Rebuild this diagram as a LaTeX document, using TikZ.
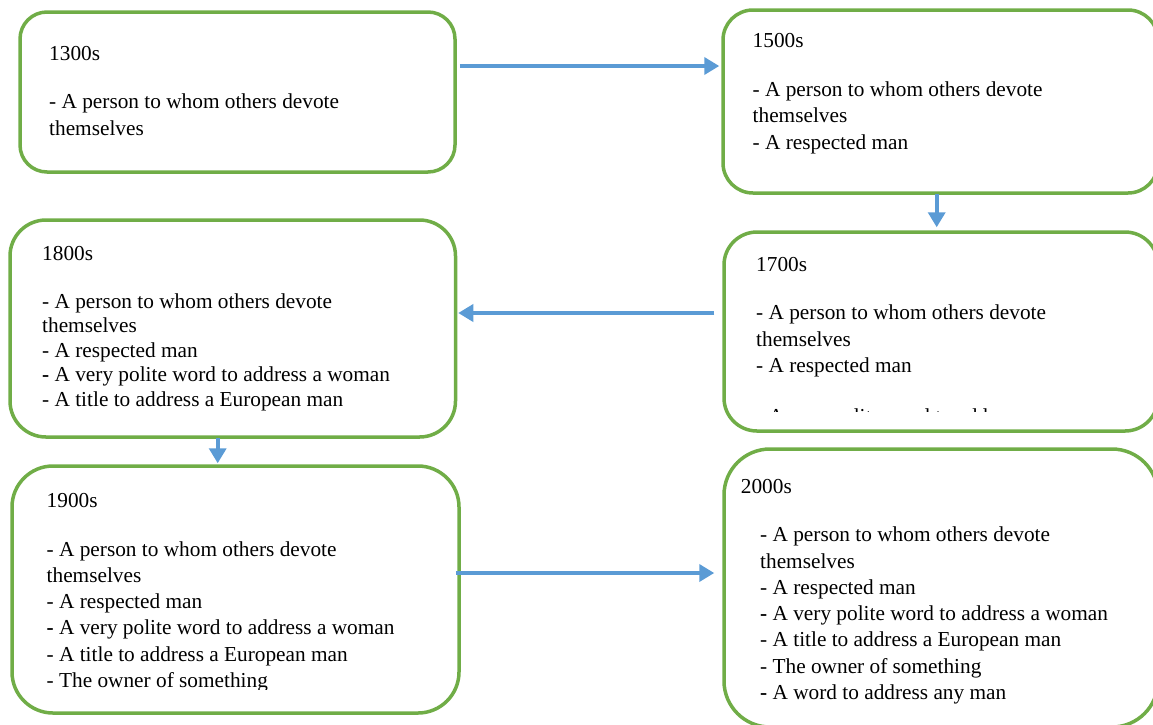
\documentclass[tikz,border=0pt]{standalone}
\usepackage{fontspec}
\setmainfont{Liberation Serif}
\usetikzlibrary{arrows.meta}
\definecolor{framegreen}{HTML}{70AD47}
\definecolor{arrowblue}{HTML}{5B9BD5}
\begin{document}
\begin{tikzpicture}[x=1pt,y=-1pt,
  era/.style={draw=framegreen, line width=3.5pt, rectangle, inner sep=0pt, fill=none},
  % multi-line text blocks are placed by the baseline of their last line
  lines/.style={anchor=base west, align=left, inner sep=0pt,
    font=\fontsize{21.3pt}{26.3pt}\selectfont},
  tight/.style={font=\fontsize{21.3pt}{24.6pt}\selectfont},
  arr/.style={draw=arrowblue, line width=3.6pt,
    -{Triangle[length=15pt,width=17pt]}}]
\useasboundingbox (0,0) rectangle (1153,724);
\begin{scope}
\clip (0,0) rectangle (1153,724);

% century boxes
\node[era, rounded corners=27pt, minimum width=435pt, minimum height=160pt] (b1) at (237.5,92) {};
\node[era, rounded corners=30pt, minimum width=435pt, minimum height=183pt] (b2) at (940.5,101.5) {};
\node[era, rounded corners=33pt, minimum width=434pt, minimum height=199pt] (b3) at (941,331.5) {};
\node[era, rounded corners=36pt, minimum width=445.5pt, minimum height=217pt] (b4) at (232.75,328.5) {};
\node[era, rounded corners=41pt, minimum width=447pt, minimum height=247pt] (b5) at (235.5,589.5) {};
\node[era, rounded corners=46pt, minimum width=434pt, minimum height=278pt] (b6) at (941,588) {};

% texts
\node[lines] (t1) at (49,135) {1300s\\[22.3pt]
- A person to whom others devote\\
themselves};

\node[lines] (t2) at (752.5,149) {1500s\\[22.3pt]
- A person to whom others devote\\
themselves\\
- A respected man};

\begin{scope}
\clip (730,240) rectangle (1150,411);
\node[lines] (t3) at (756,423.5) {1700s\\[22.3pt]
- A person to whom others devote\\
themselves\\
- A respected man\\[24.8pt]
- A very polite word to address a woman};
\end{scope}

\node[lines, tight] (t4) at (42,406.4) {1800s\\[23.4pt]
- A person to whom others devote\\
themselves\\
- A respected man\\
\textbf{-} A very polite word to address a woman\\
- A title to address a European man};

\begin{scope}
\clip (20,470) rectangle (450,689.5);
\node[lines] (t5) at (46.5,687.5) {1900s\\[22.3pt]
- A person to whom others devote\\
themselves\\
- A respected man\\
\textbf{-} A very polite word to address a woman\\
- A title to address a European man\\
- The owner of something};
\end{scope}

\node[lines] (t6h) at (740.7,493.3) {2000s};
\node[lines] (t6) at (760,699.5) {- A person to whom others devote\\
themselves\\
- A respected man\\
\textbf{-} A very polite word to address a woman\\
- A title to address a European man\\
- The owner of something\\
\textbf{-} A word to address any man};

% connectors
\coordinate (r12) at (0,66);
\coordinate (c23) at (936.7,0);
\coordinate (r34) at (0,313);
\coordinate (c45) at (217.7,0);
\coordinate (r56) at (0,573);
\draw[arr, shorten <=3pt, shorten >=2pt] (b1.east |- r12) -- (b2.west |- r12);
\draw[arr, shorten <=-1pt, shorten >=3pt] (b2.south -| c23) -- (b3.north -| c23);
\draw[arr, shorten <=8pt, shorten >=1pt] (b3.west |- r34) -- (b4.east |- r34);
\draw[arr, shorten <=-1pt, shorten >=1pt] (b4.south -| c45) -- (b5.north -| c45);
\draw[arr, shorten <=-5pt, shorten >=8pt] (b5.east |- r56) -- (b6.west |- r56);
\end{scope}
\end{tikzpicture}
\end{document}
